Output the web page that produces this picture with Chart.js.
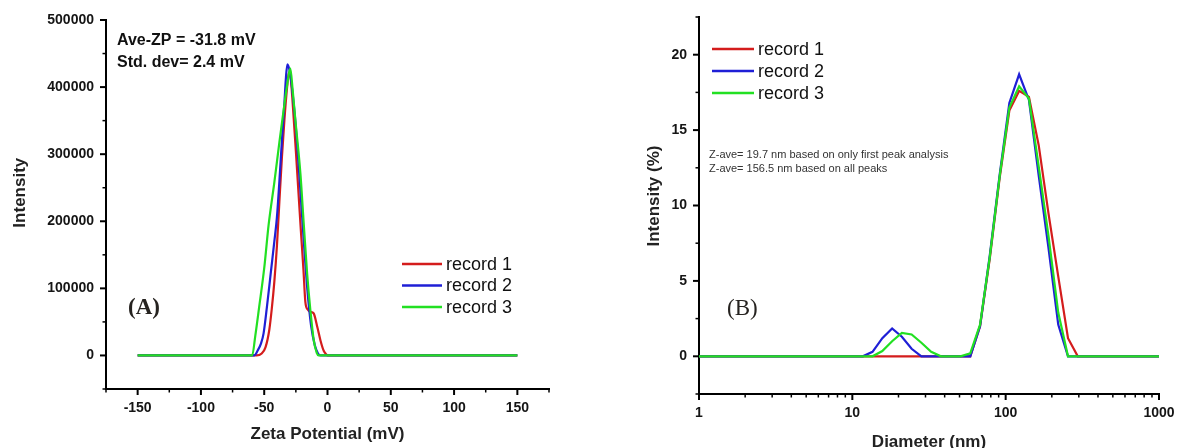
<!DOCTYPE html>
<html>
<head>
<meta charset="utf-8">
<title>Zeta potential and size distribution</title>
<script src="https://cdn.jsdelivr.net/npm/chart.js@4.4.1/dist/chart.umd.min.js"></script>
<style>
html, body { margin:0; padding:0; background:#fff; }
#wrap { position:relative; width:1177px; height:448px; overflow:hidden; }
#zetaChart { position:absolute; left:0; top:0; }
#sizeChart { position:absolute; left:580px; top:0; }
</style>
</head>
<body>
<div id="wrap">
	<canvas id="zetaChart" width="580" height="448"></canvas>
	<canvas id="sizeChart" width="597" height="448"></canvas>
</div>
<script>
// (A) zeta potential distribution - mV / intensity per record
var zetaRec1X = [-150, -56, -52, -49, -46, -44, -42, -40, -38, -36, -34, -32, -30.5, -29, -27, -25, -23, -21, -19, -17.5, -15.5, -13.5, -11, -8, -5.5, -3, -1, 0, 150];
var zetaRec1Y = [0, 0, 3000, 12000, 38000, 70000, 110000, 162000, 230000, 296000, 352000, 398000, 422000, 412000, 362000, 305000, 245000, 185000, 128000, 80000, 68000, 65000, 63000, 42000, 22000, 7000, 1500, 0, 0];

var zetaRec2X = [-150, -58, -55, -52.5, -50.5, -48, -45, -42, -40, -38, -36, -34, -32.8, -31.7, -30, -28, -25, -22, -19, -16, -13, -10, -7.5, -5.5, 150];
var zetaRec2Y = [0, 0, 8000, 18000, 33000, 70000, 120000, 170000, 205000, 260000, 321000, 378000, 415000, 434000, 425000, 398000, 340000, 262000, 178000, 100000, 45000, 15000, 3000, 0, 0];

var zetaRec3X = [-150, -59.5, -57, -54, -50, -46.5, -42, -38, -34, -31, -29.4, -27.5, -25.4, -21.4, -18.8, -16.1, -13.5, -10.8, -8.5, -7, 150];
var zetaRec3Y = [0, 0, 30000, 72000, 130000, 195000, 258000, 318000, 375000, 414000, 428000, 395000, 351000, 271000, 197000, 122000, 67000, 22000, 4000, 0, 0];

var zetaXTicks = [-150, -100, -50, 0, 50, 100, 150];
var zetaXMinor = [-175, -125, -75, -25, 25, 75, 125, 175];
var zetaYTicks = [0, 100000, 200000, 300000, 400000, 500000];
var zetaYMinor = [-50000, 50000, 150000, 250000, 350000, 450000];

// (B) size distribution by intensity - diameter bins (nm) / %
var sizeBins = [1, 11.7, 13.54, 15.69, 18.17, 21.04, 24.36, 28.21, 32.67, 37.84, 43.82, 50.75, 58.77, 68.06, 78.82, 91.28, 105.7, 122.4, 141.8, 164.2, 190.1, 220.2, 255.0, 295.3, 342.0, 1000];
var sizeRec1 = [0, 0, 0, 0, 0, 0, 0, 0, 0, 0, 0, 0, 0, 2.0, 6.5, 11.8, 16.3, 17.6, 17.2, 14.0, 9.5, 5.3, 1.2, 0, 0, 0];
var sizeRec2 = [0, 0, 0.3, 1.2, 1.85, 1.3, 0.5, 0, 0, 0, 0, 0, 0, 2.0, 6.7, 12.0, 16.8, 18.7, 17.0, 12.0, 7.2, 2.1, 0, 0, 0, 0];
var sizeRec3 = [0, 0, 0, 0.35, 1.0, 1.55, 1.45, 0.9, 0.3, 0, 0, 0, 0.2, 2.1, 6.6, 11.9, 16.5, 17.9, 17.1, 12.6, 8.0, 2.9, 0, 0, 0, 0];

var sizeXTicks = [1, 10, 100, 1000];
var sizeXMinor = [2, 3, 4, 5, 6, 7, 8, 9, 20, 30, 40, 50, 60, 70, 80, 90, 200, 300, 400, 500, 600, 700, 800, 900];
var sizeYTicks = [0, 5, 10, 15, 20];
var sizeYMinor = [-2.5, 2.5, 7.5, 12.5, 17.5, 22.5];

var recLabels = ['record 1', 'record 2', 'record 3'];
var recColors = ['#d41c1c', '#1f1fd6', '#22e022'];

function toPoints(xs, ys) {
	return xs.map(function(x, i) { return {x: x, y: ys[i]}; });
}

function fixTicks(list) {
	return function(scale) {
		scale.ticks = list.map(function(v) { return {value: v}; });
	};
}

// fixed axis box; labels may hang past the plot edges
function fixSize(w, h) {
	return function(s) {
		if (w) s.width = w;
		if (h) s.height = h;
		s.paddingLeft = s.paddingRight = s.paddingTop = s.paddingBottom = 0;
	};
}

// outward major/minor tick marks, Origin style
var axisTicks = {
	id: 'axisTicks',
	afterDraw: function(chart, args, opts) {
		var ctx = chart.ctx, area = chart.chartArea;
		ctx.save();
		ctx.strokeStyle = '#000';
		(opts.marks || []).forEach(function(m) {
			var scale = chart.scales[m.axis];
			[[m.major, 6, 2], [m.minor, 3.5, 1.5]].forEach(function(set) {
				ctx.lineWidth = set[2];
				set[0].forEach(function(v) {
					var p = scale.getPixelForValue(v);
					ctx.beginPath();
					if (scale.isHorizontal()) {
						ctx.moveTo(p, area.bottom);
						ctx.lineTo(p, area.bottom + set[1]);
					} else {
						ctx.moveTo(area.left, p);
						ctx.lineTo(area.left - set[1], p);
					}
					ctx.stroke();
				});
			});
		});
		ctx.restore();
	}
};

// free text and the line legend inside the plot
var chartNotes = {
	id: 'chartNotes',
	afterDraw: function(chart, args, opts) {
		var ctx = chart.ctx, area = chart.chartArea;
		ctx.save();
		ctx.textAlign = 'left';
		ctx.textBaseline = 'middle';
		(opts.texts || []).forEach(function(t) {
			ctx.font = t.font;
			ctx.fillStyle = t.color || '#111';
			ctx.fillText(t.text, area.left + t.dx, area.top + t.dy);
		});
		var lg = opts.legend;
		if (lg) {
			chart.data.datasets.forEach(function(ds, i) {
				var y = area.top + lg.dy + i * lg.step;
				ctx.strokeStyle = ds.borderColor;
				ctx.lineWidth = 2.5;
				ctx.beginPath();
				ctx.moveTo(area.left + lg.dx, y);
				ctx.lineTo(area.left + lg.dx + lg.len, y);
				ctx.stroke();
				ctx.font = lg.font;
				ctx.fillStyle = '#111';
				ctx.fillText(ds.label, area.left + lg.dx + lg.len + 4, y + 1);
			});
		}
		ctx.restore();
	}
};

function makeSets(xsList, ysList, smooth) {
	return ysList.map(function(ys, i) {
		return {
			label: recLabels[i],
			data: toPoints(xsList[i], ys),
			borderColor: recColors[i],
			backgroundColor: recColors[i],
			borderWidth: 2.2,
			pointRadius: 0,
			fill: false,
			tension: smooth ? 0.4 : 0,
			cubicInterpolationMode: smooth ? 'monotone' : 'default',
			order: 3 - i
		};
	});
}

function axisOpts(pad, extra) {
	var o = {
		grid: {display: false, drawTicks: false},
		border: {display: true, color: '#000', width: 2},
		ticks: {
			padding: pad,
			font: {family: '"Liberation Sans", Arial, sans-serif', size: 14, weight: 'bold'},
			color: '#151515',
			autoSkip: false,
			maxRotation: 0,
			callback: function(v) { return String(v); }
		}
	};
	return Object.assign(o, extra);
}

new Chart(document.getElementById('zetaChart'), {
	type: 'line',
	data: {
		datasets: makeSets([zetaRec1X, zetaRec2X, zetaRec3X], [zetaRec1Y, zetaRec2Y, zetaRec3Y], true)
	},
	options: {
		responsive: false,
		animation: false,
		layout: {padding: {left: 0, top: 20, right: 31, bottom: 0}},
		plugins: {
			legend: {display: false},
			tooltip: {enabled: false},
			axisTicks: {marks: [
				{axis: 'x', major: zetaXTicks, minor: zetaXMinor},
				{axis: 'y', major: zetaYTicks, minor: zetaYMinor}
			]},
			chartNotes: {
				texts: [
					{text: 'Ave-ZP = -31.8 mV', dx: 11, dy: 21, font: 'bold 16px "Liberation Sans", Arial, sans-serif'},
					{text: 'Std. dev= 2.4 mV', dx: 11, dy: 43, font: 'bold 16px "Liberation Sans", Arial, sans-serif'},
					{text: '(A)', dx: 22, dy: 288, font: 'bold 23px "Liberation Serif", "Times New Roman", serif', color: '#262320'}
				],
				legend: {dx: 296, dy: 244, step: 21.5, len: 40, font: '18px "Liberation Sans", Arial, sans-serif'}
			}
		},
		scales: {
			x: axisOpts(11, {
				type: 'linear', min: -175, max: 175,
				afterBuildTicks: fixTicks(zetaXTicks),
				afterFit: fixSize(0, 59),
				title: {display: true, text: 'Zeta Potential (mV)', color: '#222', font: {family: '"Liberation Sans", Arial, sans-serif', size: 17, weight: 'bold'}, padding: {top: 0, bottom: 3}}
			}),
			y: axisOpts(12, {
				type: 'linear', min: -50000, max: 500000,
				afterBuildTicks: fixTicks(zetaYTicks),
				afterFit: fixSize(106, 0),
				// leading spaces lift the rotated title a little above centre
				title: {display: true, text: '     Intensity', color: '#222', font: {family: '"Liberation Sans", Arial, sans-serif', size: 17, weight: 'bold'}, padding: {top: 10, bottom: 0}}
			})
		}
	},
	plugins: [axisTicks, chartNotes]
});

new Chart(document.getElementById('sizeChart'), {
	type: 'line',
	data: {
		datasets: makeSets([sizeBins, sizeBins, sizeBins], [sizeRec1, sizeRec2, sizeRec3], false)
	},
	options: {
		responsive: false,
		animation: false,
		layout: {padding: {left: 0, top: 17, right: 18, bottom: 0}},
		plugins: {
			legend: {display: false},
			tooltip: {enabled: false},
			axisTicks: {marks: [
				{axis: 'x', major: sizeXTicks, minor: sizeXMinor},
				{axis: 'y', major: sizeYTicks, minor: sizeYMinor}
			]},
			chartNotes: {
				texts: [
					{text: 'Z-ave= 19.7 nm based on only first peak analysis', dx: 10, dy: 138, font: '11px "Liberation Sans", Arial, sans-serif', color: '#333'},
					{text: 'Z-ave= 156.5 nm based on all peaks', dx: 10, dy: 152, font: '11px "Liberation Sans", Arial, sans-serif', color: '#333'},
					{text: '(B)', dx: 28, dy: 292, font: '23px "Liberation Serif", "Times New Roman", serif', color: '#262320'}
				],
				legend: {dx: 13, dy: 32, step: 22, len: 42, font: '18px "Liberation Sans", Arial, sans-serif'}
			}
		},
		scales: {
			x: axisOpts(11, {
				type: 'logarithmic', min: 1, max: 1000,
				afterBuildTicks: fixTicks(sizeXTicks),
				afterFit: fixSize(0, 54),
				title: {display: true, text: 'Diameter (nm)', color: '#222', font: {family: '"Liberation Sans", Arial, sans-serif', size: 17, weight: 'bold', lineHeight: 0.7}, padding: {top: 0, bottom: 0}}
			}),
			y: axisOpts(12, {
				type: 'linear', min: -2.5, max: 22.5,
				afterBuildTicks: fixTicks(sizeYTicks),
				afterFit: fixSize(119, 0),
				title: {display: true, text: '    Intensity (%)', color: '#222', font: {family: '"Liberation Sans", Arial, sans-serif', size: 17, weight: 'bold'}, padding: {top: 64, bottom: 0}}
			})
		}
	},
	plugins: [axisTicks, chartNotes]
});
</script>
</body>
</html>
